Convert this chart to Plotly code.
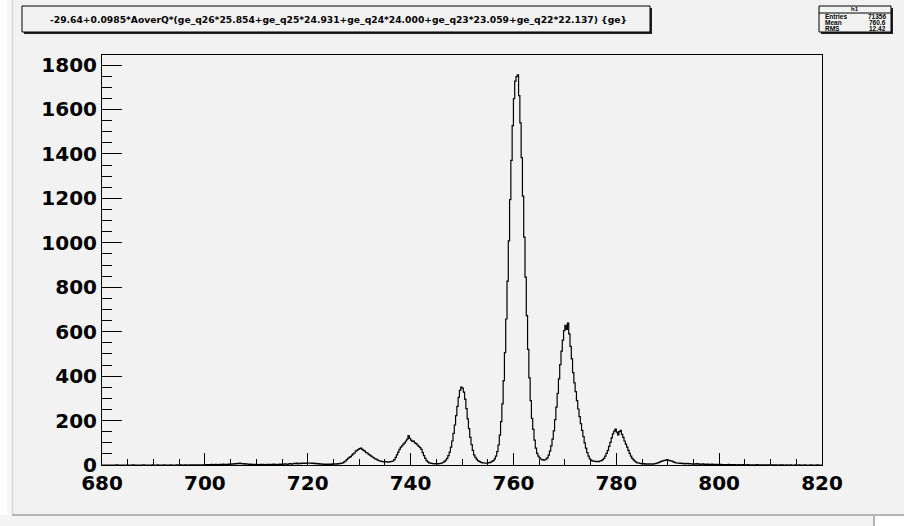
import numpy as np
import plotly.graph_objects as go

# ---------------- data ----------------
bin_low, bin_high, bin_width = 680.0, 820.0, 0.25
counts = [
    0, 0, 0, 0, 0, 0, 0, 0, 0, 0, 0, 1, 0, 0, 0, 0, 0, 0, 0, 0,            # 680-685
    0, 0, 0, 0, 1, 0, 0, 0, 0, 0, 0, 0, 1, 0, 0, 0, 0, 0, 0, 1,            # 685-690
    0, 0, 0, 1, 0, 0, 0, 0, 1, 0, 0, 0, 0, 1, 0, 0, 0, 0, 1, 0,            # 690-695
    0, 1, 0, 0, 1, 1, 0, 0, 1, 0, 1, 1, 0, 1, 1, 0, 1, 0, 1, 1,            # 695-700
    1, 2, 1, 2, 1, 3, 2, 2, 3, 1, 2, 3, 2, 3, 4, 2, 3, 3, 4, 3,            # 700-705
    4, 5, 4, 6, 5, 7, 6, 8, 6, 5, 6, 4, 5, 4, 3, 4, 3, 2, 3, 2,            # 705-710
    3, 2, 2, 3, 2, 3, 1, 2, 3, 2, 3, 2, 3, 4, 2, 3, 2, 3, 4, 3,            # 710-715
    3, 4, 5, 4, 3, 5, 6, 4, 5, 7, 6, 8, 5, 7, 6, 8, 7, 9, 7, 8,            # 715-720
    9, 8, 9, 7, 8, 6, 7, 5, 6, 4, 5, 4, 3, 4, 3, 4, 3, 4, 3, 5,            # 720-725
    4, 5, 4, 6, 5, 7, 8, 10, 14, 18, 24, 30, 34, 38, 44, 50, 54, 62, 66, 70,   # 725-730
    74, 76, 70, 66, 62, 56, 54, 48, 44, 40, 36, 32, 28, 26, 22, 20, 18, 16, 15, 14,  # 730-735
    15, 14, 13, 14, 15, 16, 18, 24, 34, 46, 58, 70, 80, 86, 94, 100, 108, 116, 132, 120,  # 735-740
    112, 106, 108, 100, 96, 90, 84, 78, 70, 56, 42, 30, 20, 14, 10, 8, 7, 6, 5, 6,  # 740-745
    6, 5, 6, 7, 9, 12, 16, 22, 30, 42, 58, 80, 108, 142, 180, 222, 264, 304, 336, 350,  # 745-750
    346, 328, 296, 254, 208, 164, 124, 92, 66, 46, 34, 26, 20, 16, 13, 11, 10, 9, 8, 8,  # 750-755
    10, 11, 13, 16, 20, 28, 40, 60, 90, 134, 195, 275, 380, 506, 657, 827, 1009, 1194, 1371, 1527,  # 755-760
    1649, 1727, 1748, 1756, 1662, 1540, 1383, 1210, 1025, 845, 672, 520, 392, 290, 210, 160, 112, 76, 52, 40,  # 760-765
    32, 27, 24, 22, 23, 26, 32, 44, 62, 86, 116, 154, 204, 260, 322, 388, 452, 512, 562, 605,  # 765-770
    628, 610, 638, 590, 534, 478, 416, 370, 330, 290, 252, 218, 186, 156, 128, 100, 76, 56, 40, 28,  # 770-775
    22, 19, 17, 16, 15, 16, 15, 18, 20, 24, 30, 40, 52, 66, 84, 102, 122, 140, 152, 162,  # 775-780
    148, 136, 150, 156, 138, 124, 108, 94, 80, 66, 52, 40, 30, 23, 17, 13, 10, 9, 7, 6,  # 780-785
    5, 6, 4, 5, 4, 5, 4, 5, 4, 5, 6, 8, 10, 12, 15, 17, 19, 21, 22, 24,  # 785-790
    22, 20, 19, 17, 14, 12, 10, 9, 8, 7, 8, 6, 7, 5, 6, 7, 5, 6, 5, 4,  # 790-795
    5, 4, 6, 4, 5, 3, 4, 5, 3, 4, 3, 4, 2, 3, 4, 2, 3, 2, 3, 2,  # 795-800
    2, 3, 2, 1, 2, 2, 1, 3, 2, 1, 2, 1, 2, 1, 1, 2, 1, 1, 2, 1,  # 800-805
    1, 1, 2, 1, 0, 1, 1, 0, 1, 2, 1, 0, 1, 1, 0, 1, 0, 1, 1, 0,  # 805-810
    1, 0, 1, 0, 1, 0, 0, 1, 0, 1, 0, 0, 1, 0, 0, 1, 0, 0, 0, 1,  # 810-815
    0, 0, 1, 0, 0, 0, 1, 0, 0, 0, 0, 1, 0, 0, 0, 0, 1, 0, 0, 0,  # 815-820
]
x_tick_values = [680, 700, 720, 740, 760, 780, 800, 820]
y_tick_values = [0, 200, 400, 600, 800, 1000, 1200, 1400, 1600, 1800]
y_max = 1845

title_text = "-29.64+0.0985*AoverQ*(ge_q26*25.854+ge_q25*24.931+ge_q24*24.000+ge_q23*23.059+ge_q22*22.137) {ge}"
stats_name = "h1"
stats_labels = ["Entries", "Mean", "RMS"]
stats_values = ["71356", "760.6", "12.42"]

# ---------------- geometry ----------------
W, H = 904, 526
L, R, T, B = 102, 82, 55, 61
PW, PH = W - L - R, H - T - B


def px(x):
    return (x - L) / PW


def py(y):
    return (H - B - y) / PH


BG = "#f2f2f2"

edges = bin_low + bin_width * np.arange(len(counts) + 1)
xs = list(edges)
ys = list(counts) + [counts[-1]]

fig = go.Figure()
fig.add_trace(go.Scatter(
    x=xs, y=ys, mode="lines", line=dict(color="black", width=1.2, shape="hv"),
    hoverinfo="skip", showlegend=False,
))

shapes = []


def rect_above(x0, y0, x1, y1, fill, line_color=None, lw=0):
    shapes.append(dict(
        type="rect", xref="paper", yref="paper", layer="above",
        x0=px(x0), x1=px(x1), y0=py(y1), y1=py(y0),
        fillcolor=fill, line=dict(color=line_color or fill, width=lw),
    ))


def line(x0, y0, x1, y1, color, lw):
    shapes.append(dict(
        type="line", xref="paper", yref="paper", layer="above",
        x0=px(x0), x1=px(x1), y0=py(y0), y1=py(y1),
        line=dict(color=color, width=lw),
    ))


# window decorations
rect_above(0, 0, 7, 515, "white")
rect_above(7, 0, 12, 515, "#f7f7f7")
line(12.5, 0, 12.5, 515, "#d6d6d6", 1.5)
rect_above(0, 515, 904, 526, "#f4f4f4")
rect_above(875, 515, 904, 526, "white")
line(12, 515, 904, 515, "#b4b4b4", 2)
line(874, 515, 874, 526, "#b4b4b4", 2)

# title box with shadow
rect_above(24, 8, 652, 34, "#222222")
rect_above(22, 6, 650, 32, BG, "black", 1)
# stats box with shadow
rect_above(821, 8, 893, 34, "#222222")
rect_above(819, 6, 891, 32, BG, "black", 1)
line(819, 13, 891, 13, "black", 1)

annotations = [
    dict(text=title_text, x=px(338), y=py(19.5), xref="paper", yref="paper",
         showarrow=False, xanchor="center", yanchor="middle",
         font=dict(family="DejaVu Sans", size=9.2, color="black", weight="bold")),
    dict(text=stats_name, x=px(855), y=py(9.5), xref="paper", yref="paper",
         showarrow=False, xanchor="center", yanchor="middle",
         font=dict(family="Liberation Sans", size=6, color="black", weight="bold")),
]
for i, (lab, val) in enumerate(zip(stats_labels, stats_values)):
    yy = 16.5 + 6.2 * i
    annotations.append(dict(text=lab, x=px(823), y=py(yy), xref="paper", yref="paper",
                            showarrow=False, xanchor="left", yanchor="middle",
                            font=dict(family="Liberation Sans", size=6.5, color="black", weight="bold")))
    annotations.append(dict(text=val, x=px(888), y=py(yy), xref="paper", yref="paper",
                            showarrow=False, xanchor="right", yanchor="middle",
                            font=dict(family="Liberation Sans", size=6.5, color="black", weight="bold")))

tick_font = dict(family="DejaVu Sans", size=20, color="black", weight="bold")

fig.update_layout(
    width=W, height=H,
    margin=dict(l=L, r=R, t=T, b=B),
    paper_bgcolor=BG, plot_bgcolor=BG,
    shapes=shapes, annotations=annotations,
    showlegend=False,
    xaxis=dict(
        range=[bin_low, bin_high], tickvals=x_tick_values, ticks="inside", ticklen=12,
        tickwidth=1, tickcolor="black", showline=True, linecolor="black", linewidth=1,
        mirror=True, showgrid=False, zeroline=False, tickfont=tick_font,
        minor=dict(ticks="inside", ticklen=6, dtick=5, tick0=680, tickcolor="black",
                   tickwidth=1, showgrid=False),
    ),
    yaxis=dict(
        range=[0, y_max], tickvals=y_tick_values, ticks="inside", ticklen=20,
        tickwidth=1, tickcolor="black", showline=True, linecolor="black", linewidth=1,
        mirror=True, showgrid=False, zeroline=False, tickfont=tick_font,
        minor=dict(ticks="inside", ticklen=10, dtick=50, tick0=0, tickcolor="black",
                   tickwidth=1, showgrid=False),
    ),
)

fig.write_html("out.html")
